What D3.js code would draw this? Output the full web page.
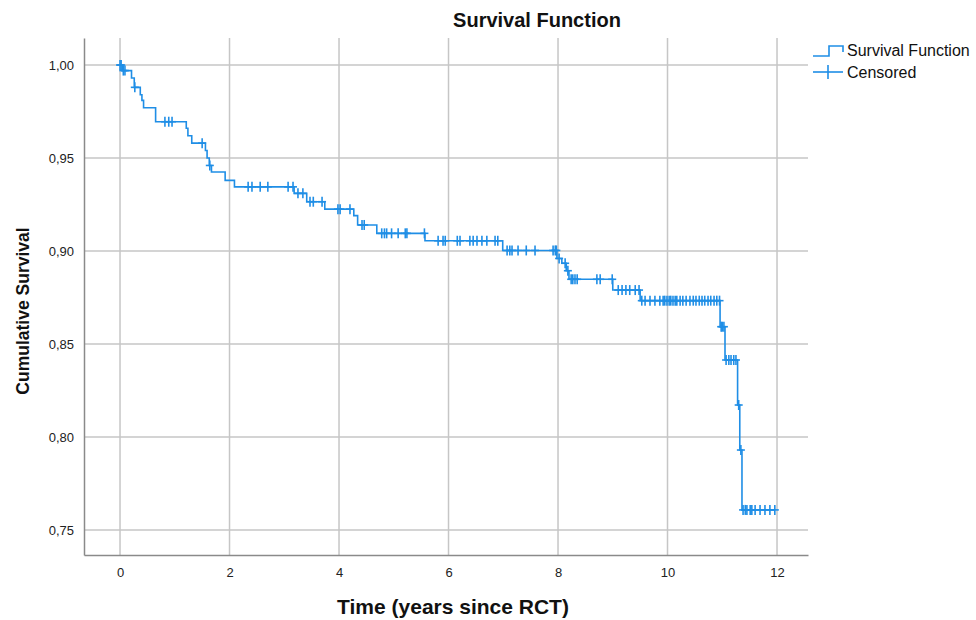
<!DOCTYPE html>
<html>
<head>
<meta charset="utf-8">
<script src="https://cdn.jsdelivr.net/npm/d3@7"></script>
<style>
  html, body { margin: 0; padding: 0; background: #fff; }
  svg { display: block; font-family: "Liberation Sans", Arial, sans-serif; }
</style>
</head>
<body>
<svg id="chart" width="976" height="620"></svg>
<script>
// ---- data ----
const eventTimes = [0.04, 0.21, 0.26, 0.37, 0.40, 0.43, 0.65, 1.21, 1.24, 1.31, 1.56, 1.59, 1.63, 1.67, 1.92, 2.09,
  3.18, 3.41, 3.74, 4.27, 4.34, 4.69, 5.57, 6.99, 7.98, 8.07, 8.15, 8.20, 9.00, 9.50, 10.96, 11.05, 11.28, 11.32, 11.36];
const eventSurvival = [0.997, 0.993, 0.988, 0.984, 0.981, 0.977, 0.9695, 0.966, 0.962, 0.958, 0.954, 0.950, 0.946, 0.9425, 0.938, 0.9345,
  0.931, 0.9265, 0.9225, 0.919, 0.914, 0.9095, 0.9055, 0.9003, 0.896, 0.8934, 0.8894, 0.8848, 0.879, 0.8733, 0.8593, 0.8414, 0.8172, 0.793, 0.7608];
const censoredTimes = [0.0, 0.02, 0.06, 0.09, 0.27, 0.82, 0.89, 0.95, 1.50, 1.64, 2.34, 2.41, 2.56, 2.70, 3.07, 3.16, 3.25, 3.34,
  3.47, 3.53, 3.69, 3.98, 4.02, 4.20, 4.42, 4.46, 4.78, 4.83, 4.87, 4.96, 5.08, 5.21, 5.24, 5.56,
  5.81, 5.90, 5.94, 6.16, 6.21, 6.39, 6.45, 6.52, 6.61, 6.70, 6.85, 6.90, 7.07, 7.12, 7.16, 7.27, 7.42, 7.58,
  7.91, 7.95, 7.97, 8.02, 8.13, 8.18, 8.24, 8.27, 8.31, 8.35, 8.71, 8.77, 8.99, 9.10, 9.17, 9.24, 9.31, 9.41, 9.48,
  9.53, 9.59, 9.68, 9.77, 9.86, 9.92, 9.95, 9.99, 10.03, 10.06, 10.10, 10.14, 10.17, 10.23, 10.28, 10.34, 10.41,
  10.47, 10.52, 10.58, 10.63, 10.68, 10.74, 10.79, 10.85, 10.90, 10.95, 10.98, 11.00, 11.03, 11.07, 11.12, 11.16,
  11.21, 11.25, 11.30, 11.34, 11.38, 11.42, 11.45, 11.51, 11.54, 11.60, 11.69, 11.78, 11.87, 11.96];
const xTicks = [0, 2, 4, 6, 8, 10, 12];
const yTicks = [0.75, 0.80, 0.85, 0.90, 0.95, 1.00];
const legendLabels = ["Survival Function", "Censored"];

// ---- layout ----
const svg = d3.select("#chart");
const L = 84, R = 808, T = 38, B = 555;
const x = d3.scaleLinear().domain([-0.658, 12.566]).range([L, R]);
const y = d3.scaleLinear().domain([0.73656, 1.01452]).range([B, T]);
const blue = "#1f8ee6";
const fmt = v => d3.format(".2f")(v).replace(".", ",");

// gridlines
svg.append("g").selectAll("line").data(yTicks).join("line")
  .attr("x1", L).attr("x2", R).attr("y1", d => y(d)).attr("y2", d => y(d))
  .attr("stroke", "#c6c6c6").attr("stroke-width", 1.5);
svg.append("g").selectAll("line").data(xTicks).join("line")
  .attr("x1", d => x(d)).attr("x2", d => x(d)).attr("y1", T).attr("y2", B)
  .attr("stroke", "#c6c6c6").attr("stroke-width", 1.5);

// axes
const xAxis = svg.append("g").attr("transform", `translate(0,${B})`)
  .call(d3.axisBottom(x).tickValues(xTicks).tickSize(0).tickPadding(13).tickFormat(d3.format("d")));
const yAxis = svg.append("g").attr("transform", `translate(${L},0)`)
  .call(d3.axisLeft(y).tickValues(yTicks).tickSize(0).tickPadding(10).tickFormat(fmt));
[xAxis, yAxis].forEach(a => {
  a.select(".domain").attr("stroke", "#8a8a8a").attr("stroke-width", 1.5);
  a.selectAll("text").attr("font-size", 13).attr("fill", "#222")
    .attr("font-family", "'Liberation Sans', Arial, sans-serif");
});

// step curve
const pts = [[0, 1]];
eventTimes.forEach((t, i) => pts.push([t, eventSurvival[i]]));
const lastT = d3.max(censoredTimes);
pts.push([lastT, eventSurvival[eventSurvival.length - 1]]);
const line = d3.line().x(d => x(d[0])).y(d => y(d[1])).curve(d3.curveStepAfter);
svg.append("path").attr("d", line(pts)).attr("fill", "none")
  .attr("stroke", blue).attr("stroke-width", 1.6);

// censored marks
function survAt(t) {
  let s = 1;
  eventTimes.forEach((et, i) => { if (et <= t) s = eventSurvival[i]; });
  return s;
}
const cg = svg.append("g").attr("stroke", blue).attr("stroke-width", 1.6);
censoredTimes.forEach(t => {
  const cx = x(t), cy = y(survAt(t));
  cg.append("line").attr("x1", cx - 4).attr("x2", cx + 4).attr("y1", cy).attr("y2", cy);
  cg.append("line").attr("x1", cx).attr("x2", cx).attr("y1", cy - 5).attr("y2", cy + 5);
});

// titles
svg.append("text").attr("x", 537).attr("y", 27).attr("text-anchor", "middle")
  .attr("font-size", 20).attr("font-weight", "bold").attr("fill", "#111").text("Survival Function");
svg.append("text").attr("x", 453).attr("y", 614).attr("text-anchor", "middle")
  .attr("font-size", 21).attr("font-weight", "bold").attr("fill", "#111").text("Time (years since RCT)");
svg.append("text").attr("transform", `translate(29,311) rotate(-90)`).attr("text-anchor", "middle")
  .attr("font-size", 17.5).attr("font-weight", "bold").attr("fill", "#111").text("Cumulative Survival");

// legend
const lg = svg.append("g");
lg.append("path").attr("d", "M813,56 H829 V46 H843 V52").attr("fill", "none").attr("stroke", blue).attr("stroke-width", 1.6);
lg.append("line").attr("x1", 813).attr("x2", 843).attr("y1", 72).attr("y2", 72).attr("stroke", blue).attr("stroke-width", 1.6);
lg.append("line").attr("x1", 828).attr("x2", 828).attr("y1", 65).attr("y2", 79).attr("stroke", blue).attr("stroke-width", 1.6);
lg.selectAll("text").data(legendLabels).join("text")
  .attr("x", 847).attr("y", (d, i) => 56 + i * 22)
  .attr("font-size", 16).attr("fill", "#111").text(d => d);
</script>
</body>
</html>
